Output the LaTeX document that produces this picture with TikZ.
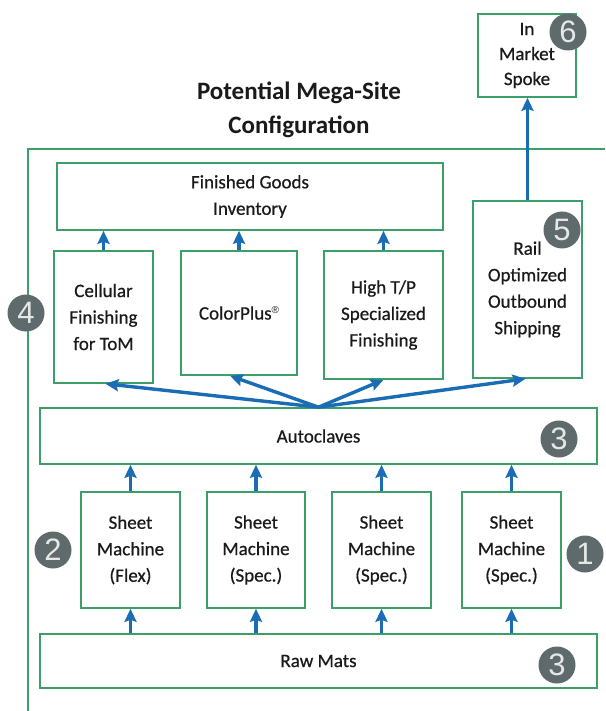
\documentclass[tikz,border=0pt]{standalone}
\usepackage{fontspec}
\setmainfont{Carlito}
\newfontfamily\boxfont{Carlito}[FakeBold=0.6]
\newfontfamily\badgefont{Liberation Sans}
\usetikzlibrary{arrows.meta,calc}
\definecolor{boxgreen}{HTML}{3E9E68}
\definecolor{flowblue}{HTML}{1A6CB5}
\definecolor{badgegray}{HTML}{5E6A6C}
\definecolor{badgetext}{HTML}{E6E8E8}
\definecolor{ink}{HTML}{1A1A1A}

\begin{document}
\begin{tikzpicture}[x=1pt,y=-1pt,
  box/.style={draw=boxgreen, line width=1.6pt, fill=white, align=center,
    text=ink, inner sep=0pt, font=\boxfont\fontsize{19}{26.5}\selectfont},
  flow/.style={draw=flowblue, line width=3.4pt,
    -{Stealth[length=13pt,width=12pt,inset=2pt]}},
  badge/.style={circle, fill=badgegray, text=badgetext, minimum size=37pt,
    inner sep=0pt, font=\badgefont\fontsize{31}{31}\selectfont},
  title/.style={align=center, text=ink, font=\bfseries\fontsize{25}{34}\selectfont}]

\useasboundingbox (0,0) rectangle (605,711);
\fill[white] (0,0) rectangle (605,711);

% site boundary (open to the right and bottom)
\draw[boxgreen, line width=1.6pt] (605,149) -- (28,149) -- (28,711);

% title
\node[title] (ttl) at (299,110) {Potential Mega-Site\\Configuration};

% off-site destination
\node[box, minimum width=98pt, minimum height=83pt,
  font=\boxfont\fontsize{19}{25}\selectfont] (mkt) at (527,55.5)
  {In\\Market\\Spoke};

% finishing and shipping tier
\node[box, minimum width=386pt, minimum height=67pt] (fg) at (250,196.5)
  {Finished Goods\\Inventory};
\node[box, minimum width=99pt, minimum height=132pt] (cell) at (103.5,317)
  {Cellular\\Finishing\\for ToM};
\node[box, minimum width=116pt, minimum height=124pt] (cp) at (239,313)
  {ColorPlus\raisebox{6pt}{\badgefont\fontsize{10}{10}\selectfont ®}};
\node[box, minimum width=119pt, minimum height=128pt] (htp) at (383.5,315)
  {High T/P\\Specialized\\Finishing};
\node[box, minimum width=109pt, minimum height=177pt] (rail) at (527.5,289.5)
  {Rail\\Optimized\\Outbound\\Shipping};

% autoclave tier
\node[box, minimum width=557pt, minimum height=56pt] (auto) at (318.5,436)
  {Autoclaves};

% sheet machines
\node[box, minimum width=99pt, minimum height=116pt] (sm1) at (130.5,550)
  {Sheet\\Machine\\(Flex)};
\node[box, minimum width=98pt, minimum height=116pt] (sm2) at (256,550)
  {Sheet\\Machine\\(Spec.)};
\node[box, minimum width=99pt, minimum height=116pt] (sm3) at (381.5,550)
  {Sheet\\Machine\\(Spec.)};
\node[box, minimum width=99pt, minimum height=116pt] (sm4) at (511.5,550)
  {Sheet\\Machine\\(Spec.)};

% raw materials
\node[box, minimum width=557pt, minimum height=54pt] (raw) at (318.5,661)
  {Raw Mats};

% flows: raw materials to sheet machines
\foreach \m in {sm1,sm2,sm3,sm4}
  \draw[flow] (raw.north -| \m.south) -- (\m.south);
% flows: sheet machines to autoclaves
\foreach \m in {sm1,sm2,sm3,sm4}
  \draw[flow] (\m.north) -- (\m.north |- auto.south);
% flows: autoclaves fan out to finishing and shipping
\coordinate (hub) at (auto.north);
\draw[flow] (hub) -- ($(cell.south)+(2,0)$);
\draw[flow] (hub) -- ($(cp.south)+(-9,0)$);
\draw[flow] (hub) -- (htp.south);
\draw[flow] (hub) -- ($(rail.south)+(-2,0)$);
% flows: finishing lines into finished goods
\foreach \f in {cell,cp,htp}
  \draw[flow] (\f.north) -- (\f.north |- fg.south);
% flow: outbound shipping to market spoke
\draw[flow] (rail.north) -- (rail.north |- mkt.south);

% numbered markers
\node[badge] (b6) at (568,32) {6};
\node[badge] (b5) at (562,230) {5};
\node[badge] (b4) at (26,313) {4};
\node[badge] (b3a) at (559,439) {3};
\node[badge] (b2) at (53,550) {2};
\node[badge] (b1) at (585,554) {1};
\node[badge] (b3b) at (557,665) {3};

\end{tikzpicture}
\end{document}
